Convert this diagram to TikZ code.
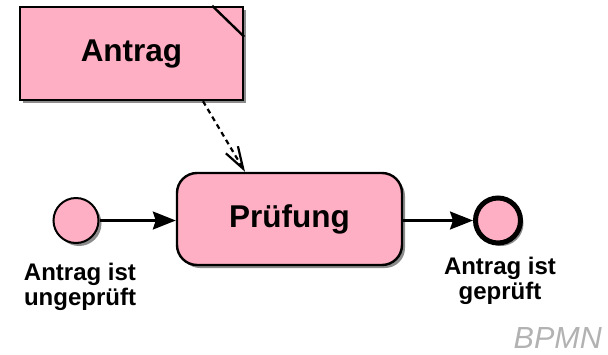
\documentclass[tikz,border=0pt]{standalone}
\usepackage{fontspec}
\setmainfont{Liberation Sans}
\usetikzlibrary{arrows.meta,shadows,calc}
\definecolor{bpink}{HTML}{FFAFC3}
\definecolor{shadowgray}{HTML}{8C8C8C}
\begin{document}
\begin{tikzpicture}[x=1pt,y=-1pt,
  shad/.style={drop shadow={shadow xshift=3pt,shadow yshift=-3pt,fill=shadowgray,opacity=1}},
  artifact/.style={draw=black,line width=2.4pt,fill=bpink,shad,minimum width=223pt,minimum height=93pt,inner sep=0pt,font=\fontsize{31.5}{33}\selectfont\bfseries},
  task/.style={draw=black,line width=2.4pt,fill=bpink,shad,rounded corners=20pt,minimum width=225pt,minimum height=92pt,inner sep=0pt,font=\fontsize{31.5}{33}\selectfont\bfseries},
  startev/.style={circle,draw=black,line width=2pt,fill=bpink,shad,minimum size=45pt,inner sep=0pt},
  endev/.style={circle,draw=black,line width=5pt,fill=bpink,shad,minimum size=45pt,inner sep=0pt},
  lbl/.style={align=center,font=\fontsize{24}{25}\selectfont\bfseries,inner sep=0pt},
  flow/.style={line width=2.2pt,-{Stealth[length=23pt,width=18pt,inset=3pt]}},
  assoc/.style={line width=2.2pt,dash pattern=on 5pt off 4pt,-{Straight Barb[length=22pt,width=14pt,line width=2.2pt]}}
]
\useasboundingbox (0,0) rectangle (608,354);
\node[artifact] (antrag) at (131.5,53.5) {Antrag};
\draw[line width=2.4pt] ($(antrag.north east)+(-32,0)$) coordinate (c1) -- ($(antrag.north east)+(0,31)$) coordinate (c2);
\node[task] (pruef) at (289.5,219) {Prüfung};
\node[startev] (start) at (76,220.5) {};
\node[endev] (end) at (498,220.5) {};
\node[lbl,anchor=north] (lstart) at (80,263) {Antrag ist\\ungeprüft};
\node[lbl,anchor=north] (lend) at (500,257) {Antrag ist\\geprüft};
\node[anchor=base east,text=black!30,font=\fontsize{30.5}{32}\selectfont\itshape,inner sep=0pt] (bpmn) at (602,348) {BPMN};
\draw[flow] (start.east) -- (start.east -| pruef.west);
\draw[flow] ([xshift=-2pt]pruef.east |- end.west) -- (end.west);
\draw[assoc] ([xshift=71.5pt]antrag.south) -- ([xshift=-44.5pt]pruef.north);
\end{tikzpicture}
\end{document}
